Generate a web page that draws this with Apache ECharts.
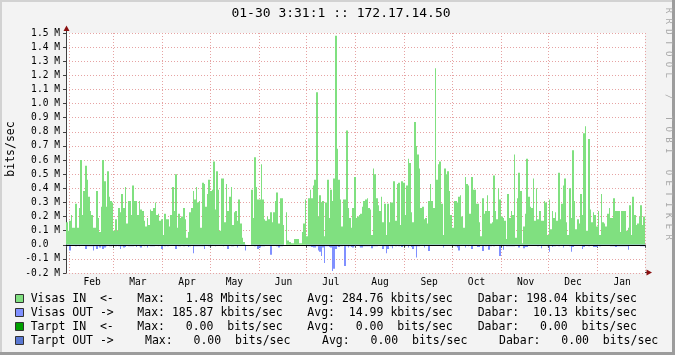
<!DOCTYPE html>
<html><head><meta charset="utf-8">
<script src="https://cdn.jsdelivr.net/npm/echarts@6/dist/echarts.min.js"></script>
<style>html,body{margin:0;padding:0;background:#f3f3f3}#c{width:675px;height:355px}</style>
</head><body><div id="c"></div><script>
// ---- data (Mbits/sec, one value per day, Jan 30 .. Jan 30) ----
const visasIn = [
 0.16,0.10, // Jan 30-31
 0.17,0.21,0.12,0.12,0.29,0.12,0.26,0.60,0.21,0.38,0.56,0.46,0.34,0.24,0.21,0.12,0.12,0.38,0.19,0.09,0.27,0.60,0.45,0.27,0.52,0.34,0.31,0.30, // Feb
 0.10,0.18,0.10,0.26,0.23,0.36,0.26,0.41,0.15,0.31,0.31,0.21,0.42,0.31,0.31,0.21,0.31,0.25,0.24,0.17,0.13,0.19,0.14,0.25,0.24,0.26,0.30,0.21,0.22,0.17,0.18, // Mar
 0.07,0.22,0.18,0.18,0.13,0.21,0.41,0.24,0.50,0.12,0.22,0.19,0.20,0.26,0.18,0.05,0.09,0.23,0.26,0.38,0.32,0.41,0.30,0.31,0.12,0.44,0.43,0.27,0.36,0.46, // Apr
 0.38,0.39,0.59,0.25,0.52,0.39,0.10,0.47,0.47,0.16,0.43,0.24,0.34,0.41,0.14,0.23,0.24,0.17,0.32,0.15,0.05,0.02,0,0,0,0,0.39,0.19,0.62,0.41,0.32, // May
 0.32,0.57,0.32,0.18,0.17,0.20,0.18,0.23,0.16,0.23,0.31,0.37,0.15,0.33,0.33,0.14,0,0.23,0.03,0.02,0.01,0.01,0.04,0.04,0.04,0.01,0.01,0.09,0.15,0.32, // Jun
 0.06,0.33,0.39,0.33,0.42,0.46,1.08,0.20,0.35,0.30,0.31,0.06,0.30,0.46,0.19,0.39,0.31,0.47,1.48,0.68,0.46,0.32,0.13,0.32,0.32,0.81,0.26,0.19,0.12,0.26,0.48, // Jul
 0.19,0.20,0.21,0.22,0.27,0.31,0.32,0.33,0.26,0.25,0.07,0.54,0.50,0.33,0.28,0.24,0.34,0.16,0.29,0.07,0.29,0.16,0.30,0.30,0.45,0.17,0.43,0.44,0.14,0.45,0.44, // Aug
 0.21,0.42,0.61,0.58,0.23,0.16,0.87,0.70,0.64,0.54,0.26,0.27,0.18,0.19,0.15,0.31,0.43,0.31,0.26,1.25,0.46,0.57,0.59,0.29,0.07,0.54,0.50,0.52,0.38,0.21, // Sep
 0.12,0.31,0.31,0.30,0.34,0.35,0.20,0.12,0.48,0.43,0.42,0.22,0.48,0.39,0.39,0.29,0.29,0.16,0.06,0.33,0.22,0.24,0.35,0.24,0.15,0.16,0.49,0.24,0.18,0.40,0.32, // Oct
 0.20,0.19,0.17,0.04,0.36,0.19,0.24,0.21,0.64,0.05,0.33,0.51,0.38,0.01,0.13,0.22,0.61,0.34,0.27,0.26,0.47,0.17,0.40,0.18,0.24,0.17,0.17,0.31,0.30,0.07, // Nov
 0.32,0.11,0.24,0.19,0.23,0.17,0.51,0.18,0.29,0.42,0.47,0.16,0.07,0.40,0.19,0.67,0.31,0.11,0.18,0.15,0.36,0.21,0.79,0.84,0.10,0.75,0.25,0.16,0.23,0.21,0.13, // Dec
 0.24,0.07,0.36,0.16,0.15,0.13,0.22,0.26,0.19,0.19,0.33,0.24,0.24,0.24,0.09,0.24,0.24,0.24,0.10,0.12,0.28,0.07,0.34,0.21,0.14,0.15,0.20,0.28,0.14,0.20  // Jan
];
const visasOut = [
 -0.01,-0.005,
 -0.04,-0.005,-0.005,-0.005,-0.01,-0.005,-0.01,-0.005,-0.005,-0.005,-0.03,-0.01,-0.01,-0.01,-0.01,-0.04,-0.01,-0.03,-0.01,-0.02,-0.01,-0.03,-0.02,-0.01,-0.005,-0.01,-0.01,-0.005,
 -0.005,-0.01,-0.005,-0.01,-0.03,-0.01,-0.02,-0.015,-0.005,-0.01,-0.01,-0.01,-0.01,-0.005,-0.015,-0.005,-0.01,-0.02,-0.005,-0.01,-0.005,-0.02,-0.005,-0.01,-0.01,-0.01,-0.005,-0.005,-0.01,-0.005,-0.03,
 -0.005,-0.01,-0.005,-0.01,-0.005,-0.005,-0.005,-0.005,-0.03,-0.005,-0.01,-0.01,-0.005,-0.01,-0.005,-0.005,-0.015,-0.01,-0.005,-0.06,-0.01,-0.01,-0.01,-0.01,-0.01,-0.01,-0.03,-0.005,-0.005,-0.01,
 -0.01,-0.005,-0.005,-0.01,-0.005,-0.005,-0.005,-0.005,-0.01,-0.005,-0.005,-0.03,-0.005,-0.01,-0.01,-0.005,-0.005,-0.02,-0.005,-0.005,-0.005,-0.005,-0.04,0,0,0,-0.005,-0.005,-0.01,-0.005,-0.03,
 -0.02,-0.01,-0.01,-0.01,-0.005,-0.005,-0.005,-0.07,-0.005,-0.005,-0.005,-0.01,-0.02,-0.01,-0.01,-0.005,0,0,0,0,0,0,0,0,0,0,0,0,0,0,
 -0.005,-0.01,-0.01,-0.015,-0.02,-0.02,-0.01,-0.04,-0.05,-0.08,-0.02,-0.13,-0.01,-0.01,-0.015,-0.02,-0.186,-0.17,-0.03,-0.01,-0.015,-0.01,-0.01,-0.005,-0.15,-0.01,-0.02,-0.01,-0.015,-0.02,-0.01,
 -0.005,-0.005,-0.01,-0.02,-0.02,-0.01,-0.01,-0.01,-0.01,-0.005,-0.025,-0.01,-0.01,-0.01,-0.005,-0.005,-0.005,-0.03,-0.01,-0.06,-0.03,-0.005,-0.01,-0.025,-0.005,-0.01,-0.005,-0.01,-0.005,-0.015,-0.005,
 -0.01,-0.005,-0.02,-0.005,-0.015,-0.03,-0.01,-0.09,-0.01,-0.01,-0.005,-0.005,-0.02,-0.005,-0.005,-0.045,-0.005,-0.005,-0.005,-0.005,-0.005,-0.005,-0.005,-0.005,-0.02,-0.005,-0.005,-0.005,-0.005,-0.005,
 -0.005,-0.005,-0.01,-0.02,-0.04,-0.005,-0.005,-0.005,-0.02,-0.005,-0.01,-0.005,-0.03,-0.005,-0.005,-0.005,-0.015,-0.015,-0.005,-0.045,-0.005,-0.01,-0.005,-0.035,-0.01,-0.005,-0.01,-0.005,-0.005,-0.005,-0.08,
 -0.005,-0.035,-0.005,-0.01,-0.01,-0.01,-0.01,-0.01,-0.01,-0.005,-0.005,-0.02,-0.005,-0.005,-0.025,-0.015,-0.015,-0.005,-0.005,-0.005,-0.005,-0.005,-0.005,-0.01,-0.005,-0.025,-0.005,-0.005,-0.005,-0.01,
 -0.05,-0.005,-0.015,-0.01,-0.01,-0.005,-0.01,-0.005,-0.005,-0.02,-0.005,-0.005,-0.005,-0.01,-0.05,-0.015,-0.005,-0.005,-0.005,-0.005,-0.005,-0.03,-0.015,-0.005,-0.005,-0.01,-0.005,-0.005,-0.015,-0.015,-0.015,
 -0.005,-0.01,-0.005,-0.005,-0.005,-0.005,-0.005,-0.005,-0.01,-0.01,-0.01,-0.015,-0.01,-0.01,-0.01,-0.01,-0.01,-0.01,-0.01,-0.035,-0.005,-0.005,-0.005,-0.005,-0.005,-0.005,-0.005,-0.01,-0.01,-0.01
];
const monthNames = ['Jan','Feb','Mar','Apr','May','Jun','Jul','Aug','Sep','Oct','Nov','Dec'];
const yTickStep = 0.1;
const titleText = '01-30 3:31:1 :: 172.17.14.50';
const legendLabels = ['Visas IN  <-','Visas OUT ->','Tarpt IN  <-','Tarpt OUT ->'];
const legendMax = ['Max:   1.48 Mbits/sec','Max: 185.87 kbits/sec','Max:   0.00  bits/sec','Max:   0.00  bits/sec'];
const legendAvg = ['Avg: 284.76 kbits/sec','Avg:  14.99 kbits/sec','Avg:   0.00  bits/sec','Avg:   0.00  bits/sec'];
const legendCur = ['Dabar: 198.04 kbits/sec','Dabar:  10.13 kbits/sec','Dabar:   0.00  bits/sec','Dabar:   0.00  bits/sec'];
const legendColors = ['#80E080','#8090FF','#00A000','#5A78D2'];

// ---- categories (dates) ----
const dayCount = 366;
const start = Date.UTC(2023,0,30);
const days = [];
for (let i=0;i<dayCount;i++){ days.push(new Date(start+i*86400000).toISOString().slice(0,10)); }
const monthStart = new Set();
const labelAt = {};
for (let i=0;i<days.length;){
  const m = +days[i].slice(5,7)-1; let j=i;
  while (j<days.length && +days[j].slice(5,7)-1===m) j++;
  const L=j-i;
  if (days[i].slice(8)==='01') monthStart.add(i);
  if (L>=28) labelAt[Math.round(i+L/2-0.5)] = monthNames[m];
  i=j;
}

const MONO = '"DejaVu Sans Mono", monospace';
const GRIDC = '#e6a3a3';
const AXISC = '#404040';
const ARROWC = '#8b1010';
const G = {left:66, top:33, width:579, height:240};

const graphic = [];
// frame
graphic.push({type:'rect', shape:{x:0,y:0,width:675,height:2}, style:{fill:'#d2d2d2'}, z:0});
graphic.push({type:'rect', shape:{x:0,y:0,width:2,height:355}, style:{fill:'#d2d2d2'}, z:0});
graphic.push({type:'rect', shape:{x:0,y:352,width:675,height:3}, style:{fill:'#9c9c9c'}, z:0});
graphic.push({type:'rect', shape:{x:672,y:0,width:3,height:355}, style:{fill:'#9c9c9c'}, z:0});
// title
graphic.push({type:'text', x:341, y:14, style:{text:titleText, font:'13px '+MONO, fill:'#000', textAlign:'center', textVerticalAlign:'middle', align:'center', verticalAlign:'middle'}});
// y unit
graphic.push({type:'text', x:11, y:149, rotation:Math.PI/2, style:{text:'bits/sec', font:'11.5px '+MONO, fill:'#000', textAlign:'center', textVerticalAlign:'middle', align:'center', verticalAlign:'middle'}});
// watermark
const wm = 'RRDTOOL / TOBI OETIKER';
for (let i=0;i<wm.length;i++){
  graphic.push({type:'text', x:668, y:5+(i+0.5)*10.8, rotation:-Math.PI/2, style:{text:wm[i], font:'9px '+MONO, fill:'#a8a8a8', textAlign:'center', textVerticalAlign:'middle', align:'center', verticalAlign:'middle'}});
}
// axis extensions and arrows
graphic.push({type:'line', shape:{x1:66.5,y1:33,x2:66.5,y2:29}, style:{stroke:AXISC, lineWidth:1}, z:50});
graphic.push({type:'polygon', shape:{points:[[63.5,31],[69.5,31],[66.5,25.5]]}, style:{fill:ARROWC}, z:50});
graphic.push({type:'line', shape:{x1:645,y1:272.5,x2:648,y2:272.5}, style:{stroke:AXISC, lineWidth:1}, z:50});
graphic.push({type:'polygon', shape:{points:[[646.5,269.5],[646.5,275.5],[652,272.5]]}, style:{fill:ARROWC}, z:50});
// legend
const rowY = [299,313,327,341];
const colX = [[30.7,137.3,307.3,477.7],[30.7,137.3,307.3,477.7],[30.7,137.3,307.3,477.7],[30.7,145,322,499]];
for (let r=0;r<4;r++){
  graphic.push({type:'rect', shape:{x:15.5,y:rowY[r]-4.5,width:8,height:8}, style:{fill:legendColors[r], stroke:'#333', lineWidth:1}});
  const parts=[legendLabels[r],legendMax[r],legendAvg[r],legendCur[r]];
  for (let c=0;c<4;c++){
    graphic.push({type:'text', x:colX[r][c], y:rowY[r], style:{text:parts[c], font:'11.5px '+MONO, fill:'#000', textAlign:'left', textVerticalAlign:'middle', align:'left', verticalAlign:'middle'}});
  }
}

// step-area columns: each day is a column spanning its whole category band,
// edges snapped to whole pixels so neighbouring columns join without seams
function columnRenderer(color){
  return function(params, api){
    const i = api.value(0), v = api.value(1);
    const base = api.coord([i, 0]);
    const top = api.coord([i, v]);
    const w = api.size([1, 0])[0];
    const x0 = Math.round(base[0] - w/2), x1 = Math.round(base[0] + w/2);
    return {type:'rect', shape:{x:x0, y:Math.min(base[1], top[1]), width:x1-x0, height:Math.abs(top[1]-base[1])},
            style:{fill:color}};
  };
}

const chart = echarts.init(document.getElementById('c'), null, {renderer:'canvas'});
chart.setOption({
  backgroundColor:'#f3f3f3',
  animation:false,
  textStyle:{fontFamily:MONO},
  grid:{left:G.left, top:G.top, width:G.width, height:G.height, show:true, backgroundColor:'#ffffff', borderWidth:0},
  xAxis:{
    type:'category', data:days, boundaryGap:true,
    axisLine:{show:true, lineStyle:{color:AXISC, width:1}},
    axisTick:{show:true, length:3, interval:(i)=>monthStart.has(i), lineStyle:{color:AXISC}},
    axisLabel:{show:true, interval:(i)=>labelAt[i]!==undefined, formatter:(v,i)=>labelAt[i]||'', fontFamily:MONO, fontSize:9.6, color:'#000', margin:4},
    splitLine:{show:true, interval:(i)=>monthStart.has(i), lineStyle:{color:GRIDC, type:[1,2], width:1}}
  },
  yAxis:{
    type:'value', min:-0.2, max:1.5, interval:yTickStep,
    axisLine:{show:true, lineStyle:{color:AXISC, width:1}},
    axisTick:{show:true, length:3, lineStyle:{color:AXISC}},
    axisLabel:{fontFamily:MONO, fontSize:9.6, color:'#000', margin:6,
      formatter:(v)=>{const r=Math.round(v*10)/10; return Math.abs(r)<1e-9 ? '0.0  ' : r.toFixed(1)+' M';}},
    splitLine:{show:true, lineStyle:{color:GRIDC, type:[1,2], width:1}}
  },
  series:[
    {name:'Visas IN', type:'custom', renderItem:columnRenderer('#80E080'), encode:{x:0, y:1},
     data:visasIn.map((v,i)=>[i,v]), z:2},
    {name:'Visas OUT', type:'custom', renderItem:columnRenderer('#8090FF'), encode:{x:0, y:1},
     data:visasOut.map((v,i)=>[i,v]), z:2,
     markLine:{silent:true, symbol:'none', label:{show:false}, lineStyle:{color:'#000', width:1, type:'solid'}, data:[{yAxis:0}]}}
  ],
  graphic:graphic
});
</script></body></html>
